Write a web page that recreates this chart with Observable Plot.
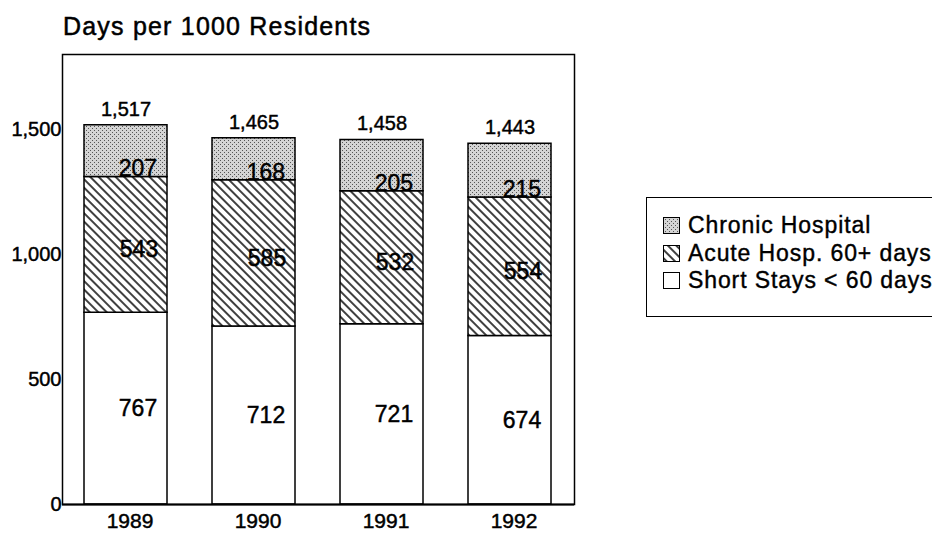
<!DOCTYPE html>
<html><head><meta charset="utf-8">
<script src="https://cdn.jsdelivr.net/npm/d3@7"></script>
<script src="https://cdn.jsdelivr.net/npm/@observablehq/plot@0.6"></script>
<style>
html,body{margin:0;padding:0;background:#fff;overflow:hidden;}
body{width:932px;height:533px;position:relative;font-family:"Liberation Sans",Arial,Helvetica,sans-serif;color:#000;}
#title{position:absolute;left:63px;top:14px;font-size:25px;line-height:25px;letter-spacing:1.2px;white-space:nowrap;-webkit-text-stroke:0.5px #000;}
#chart{position:absolute;left:0;top:40px;}
#chart svg text{stroke:#000;stroke-width:0.45px;}
#legend{position:absolute;left:646px;top:197px;width:320px;height:120px;border:1.5px solid #000;box-sizing:border-box;padding-top:14px;background:#fff;}
.row{display:flex;align-items:center;height:27.5px;padding-left:16px;font-size:23px;letter-spacing:0.9px;white-space:nowrap;-webkit-text-stroke:0.4px #000;}
.row svg{margin-right:8px;flex:none;display:block;}
</style></head>
<body>
<div id="title">Days per 1000 Residents</div>
<div id="chart"></div>
<div id="legend"></div>
<script>
const years = ["1989", "1990", "1991", "1992"];
const shortStays = [767, 712, 721, 674];
const acuteHosp = [543, 585, 532, 554];
const chronicHosp = [207, 168, 205, 215];
const totals = [1517, 1465, 1458, 1443];
const seriesNames = ["Short Stays < 60 days", "Acute Hosp. 60+ days", "Chronic Hospital"];
const yTicks = [0, 500, 1000, 1500];

const rows = [];
years.forEach((yr, i) => {
  rows.push({year: yr, series: seriesNames[0], value: shortStays[i]});
  rows.push({year: yr, series: seriesNames[1], value: acuteHosp[i]});
  rows.push({year: yr, series: seriesNames[2], value: chronicHosp[i]});
});
const byYear = years.map((yr, i) => ({year: yr, short: shortStays[i], acute: acuteHosp[i], chronic: chronicHosp[i], total: totals[i]}));
const fmt = d3.format(",");

function makeDefs(prefix) {
  const defs = d3.create("svg:defs");
  const h = defs.append("pattern").attr("id", prefix + "hatch").attr("patternUnits", "userSpaceOnUse")
    .attr("width", 6).attr("height", 6).attr("patternTransform", "rotate(-45)");
  h.append("rect").attr("width", 6).attr("height", 6).attr("fill", "#fff");
  h.append("line").attr("x1", 3).attr("y1", -1).attr("x2", 3).attr("y2", 7).attr("stroke", "#000").attr("stroke-width", 1.5);
  const s = defs.append("pattern").attr("id", prefix + "stip").attr("patternUnits", "userSpaceOnUse")
    .attr("width", 4).attr("height", 4);
  s.append("rect").attr("width", 4).attr("height", 4).attr("fill", "#d4d4d4");
  s.append("rect").attr("x", 0).attr("y", 0).attr("width", 1).attr("height", 1).attr("fill", "#555");
  s.append("rect").attr("x", 2).attr("y", 2).attr("width", 1).attr("height", 1).attr("fill", "#555");
  return defs.node();
}

const fills = ["#ffffff", "url(#phatch)", "url(#pstip)"];

const chart = Plot.plot({
  width: 932, height: 493,
  marginLeft: 62, marginRight: 358, marginTop: 14, marginBottom: 29,
  style: {fontFamily: "'Liberation Sans', Arial, Helvetica, sans-serif", color: "#000", background: "transparent", overflow: "visible"},
  x: {domain: years, paddingInner: 0.35, paddingOuter: 0.175, label: null},
  y: {domain: [0, 1800], label: null},
  color: {type: "ordinal", domain: seriesNames, range: fills},
  marks: [
    () => makeDefs("p"),
    Plot.barY(rows, Plot.stackY({x: "year", y: "value", z: "series", order: seriesNames, fill: "series", stroke: "#000", strokeWidth: 1.5})),
    Plot.frame({stroke: "#000", strokeWidth: 1.5}),
    Plot.ruleY([0], {stroke: "#000", strokeWidth: 2}),
    Plot.axisY({ticks: yTicks, tickFormat: d => fmt(d), tickSize: 0, tickPadding: 1, fontSize: 20, label: null}),
    Plot.axisX({tickSize: 0, tickPadding: 9, fontSize: 21, dx: 4, label: null}),
    Plot.text(byYear, {x: "year", y: "total", text: d => fmt(d.total), dy: -16, fontSize: 20}),
    Plot.text(byYear, {x: "year", y: d => d.short + d.acute, text: "chronic", dx: 31, dy: -8, textAnchor: "end", fontSize: 23}),
    Plot.text(byYear, {x: "year", y: d => d.short + d.acute / 2, text: "acute", dx: 13, dy: 5, fontSize: 23}),
    Plot.text(byYear, {x: "year", y: d => d.short / 2, text: "short", dx: 12, dy: 0, fontSize: 23})
  ]
});
document.getElementById("chart").appendChild(chart);

// legend
const legend = d3.select("#legend");
const legendOrder = [2, 1, 0];
legendOrder.forEach(k => {
  const row = legend.append("div").attr("class", "row");
  const sw = row.append("svg").attr("width", 17).attr("height", 17);
  sw.node().appendChild(makeDefs("l" + k));
  const f = k === 0 ? "#fff" : (k === 1 ? `url(#l${k}hatch)` : `url(#l${k}stip)`);
  sw.append("rect").attr("x", 0.5).attr("y", 0.5).attr("width", 16).attr("height", 16)
    .attr("fill", f).attr("stroke", "#000").attr("stroke-width", 1);
  row.append("span").text(seriesNames[k]);
});
</script>
</body></html>
